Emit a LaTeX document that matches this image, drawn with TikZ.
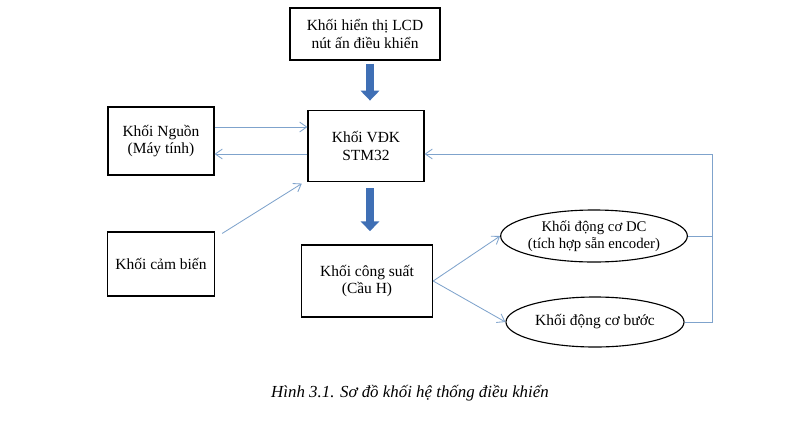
\documentclass[tikz,border=0pt]{standalone}
\usepackage{fontspec}
\setmainfont{Liberation Serif}
\usetikzlibrary{arrows.meta,positioning,shapes.geometric}
\definecolor{linkblue}{HTML}{7FA3CC}
\definecolor{fatblue}{HTML}{3F6FB5}

\begin{document}
\begin{tikzpicture}[
      x=0.025cm,y=-0.025cm,
      every node/.style={font=\fontsize{11}{12.5}\selectfont},
      blk/.style={rectangle,draw,thick,align=center,inner sep=2pt},
      motor/.style={ellipse,draw,thick,align=center,inner sep=0pt},
      link/.style={draw=linkblue,semithick,-{Straight Barb[length=5pt,width=7pt]}},
      fat/.style={draw=fatblue,line width=5pt,-{Triangle[length=7pt,width=13pt]}}
  ]
  \useasboundingbox (0,0) rectangle (800,429);

  % khoi chinh
  \node[blk,minimum width=3.75cm,minimum height=1.3cm] (lcd) at (365,34) {Khối hiển thị LCD\\nút ấn điều khiển};
  \node[blk,minimum width=2.65cm,minimum height=1.7cm] (nguon) at (161,141) {Khối Nguồn\\(Máy tính)};
  \node[blk,minimum width=2.9cm,minimum height=1.78cm] (vdk) at (366,146) {Khối VĐK\\STM32};
  \node[blk,minimum width=2.68cm,minimum height=1.6cm] (cambien) at (161,264) {Khối cảm biến};
  \node[blk,minimum width=3.28cm,minimum height=1.8cm] (congsuat) at (367,281) {Khối công suất\\(Cầu H)};

  % dong co
  \node[motor,minimum width=4.6cm,minimum height=1.3cm,font=\fontsize{10.5}{12}\selectfont] (dc) at (594,236) {Khối động cơ DC\\(tích hợp sẵn encoder)};
  \node[motor,minimum width=4.45cm,minimum height=1.25cm] (buoc) at (595,322) {Khối động cơ bước};

  % mui ten dam
  \draw[fat] (lcd.south -| 370,0) ++(0,3) -- ++(0,37);
  \draw[fat] (vdk.south -| 370,0) ++(0,6) -- ++(0,43);

  % ket noi
  \draw[link] (nguon.east |- 0,127) -- (vdk.west |- 0,127);
  \draw[link] (vdk.west |- 0,154) -- (nguon.east |- 0,154);
  \draw[link] (cambien.north east) ++(7,2) -- ([xshift=-4pt,yshift=-1pt]vdk.south west);
  \draw[link] (congsuat.east) -- (dc.west);
  \draw[link] (congsuat.east) -- (buoc.west);

  % hoi tiep
  \coordinate (fb) at (712,0);
  \draw[linkblue,semithick] (dc.east) -- (dc.east -| fb);
  \draw[link] (buoc.east) -- (buoc.east -| fb) -- (fb |- 0,154) -- (vdk.east |- 0,154);

  \node[font=\itshape\fontsize{12}{14}\selectfont] (caption) at (410,393) {Hình 3.1. Sơ đồ khối hệ thống điều khiển};
\end{tikzpicture}
\end{document}
